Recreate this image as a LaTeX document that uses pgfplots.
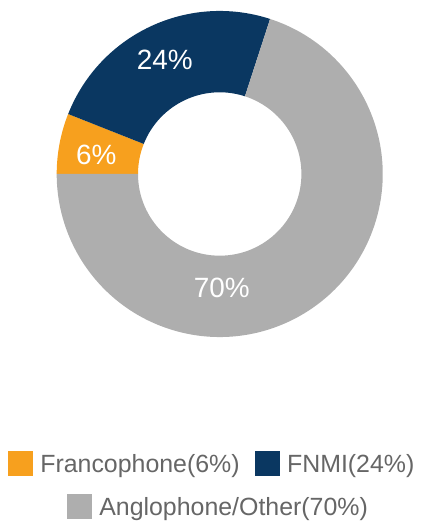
\documentclass[border=0pt]{standalone}
\usepackage{pgfplots}
\pgfplotsset{compat=1.18}
\usepackage{pgfplotstable}
\usepackage{fontspec}
\setmainfont{Liberation Sans}
\definecolor{cFr}{HTML}{F7A01E}
\definecolor{cFn}{HTML}{0A3761}
\definecolor{cAn}{HTML}{AEAEAE}
\definecolor{cTx}{HTML}{666666}

\pgfplotstableread{
group value
Francophone 6
FNMI 24
Anglophone 70
}\shares

\newcommand\donutwedge[3]{%
  \fill[#3] (axis cs:{163*cos(#1)},{163*sin(#1)}) arc[start angle=#1, end angle=#2, radius=163bp]
    -- (axis cs:{81.7*cos(#2)},{81.7*sin(#2)}) arc[start angle=#2, end angle=#1, radius=81.7bp] -- cycle;}

\begin{document}
\pgfplotstablegetelem{0}{value}\of\shares \pgfmathsetmacro\vA{\pgfplotsretval}%
\pgfplotstablegetelem{1}{value}\of\shares \pgfmathsetmacro\vB{\pgfplotsretval}%
\pgfplotstablegetelem{2}{value}\of\shares \pgfmathsetmacro\vC{\pgfplotsretval}%
\pgfmathsetmacro\aZero{180}%
\pgfmathsetmacro\aOne{\aZero-3.6*\vA}%
\pgfmathsetmacro\aTwo{\aOne-3.6*\vB}%
\pgfmathsetmacro\aThree{\aTwo-3.6*\vC}%
\begin{tikzpicture}
\pgfplotsset{
  donutbase/.style={
    x=1bp, y=1bp, xmin=-219.7, xmax=201.3, ymin=-347, ymax=174,
    hide axis, clip=false,
    legend image code/.code={\fill[##1] (0bp,-12bp) rectangle (24bp,12bp);},
    legend style={draw=none, fill=none, inner sep=0pt, anchor=west,
      font=\fontsize{25}{30}\selectfont, text=cTx,
      nodes={inner sep=0pt, text depth=0pt},
      /tikz/every odd column/.append style={column sep=8bp},
      /tikz/every even column/.append style={column sep=15bp}},
  }
}
\begin{axis}[name=ax, donutbase, legend columns=2,
  legend style={at={(axis cs:-212,-289.7)}}]
\donutwedge{\aZero}{\aOne}{cFr}
\donutwedge{\aOne}{\aTwo}{cFn}
\donutwedge{\aTwo}{\aThree}{cAn}
\node[text=white, font=\fontsize{28}{32}\selectfont, inner sep=0pt] at (axis cs:-123.4,19) {6\%};
\node[text=white, font=\fontsize{28}{32}\selectfont, inner sep=0pt] at (axis cs:-55,114) {24\%};
\node[text=white, font=\fontsize{28}{32}\selectfont, inner sep=0pt] at (axis cs:2,-114.3) {70\%};
\addlegendimage{cFr}\addlegendentry{Francophone(6\%)}
\addlegendimage{cFn}\addlegendentry{FNMI(24\%)}
\end{axis}
\begin{axis}[donutbase, legend style={at={(axis cs:-153,-332.5)}}]
\addlegendimage{cAn}\addlegendentry{Anglophone/Other(70\%)}
\end{axis}
\pgfresetboundingbox
\path (ax.south west) rectangle (ax.north east);
\end{tikzpicture}
\end{document}
